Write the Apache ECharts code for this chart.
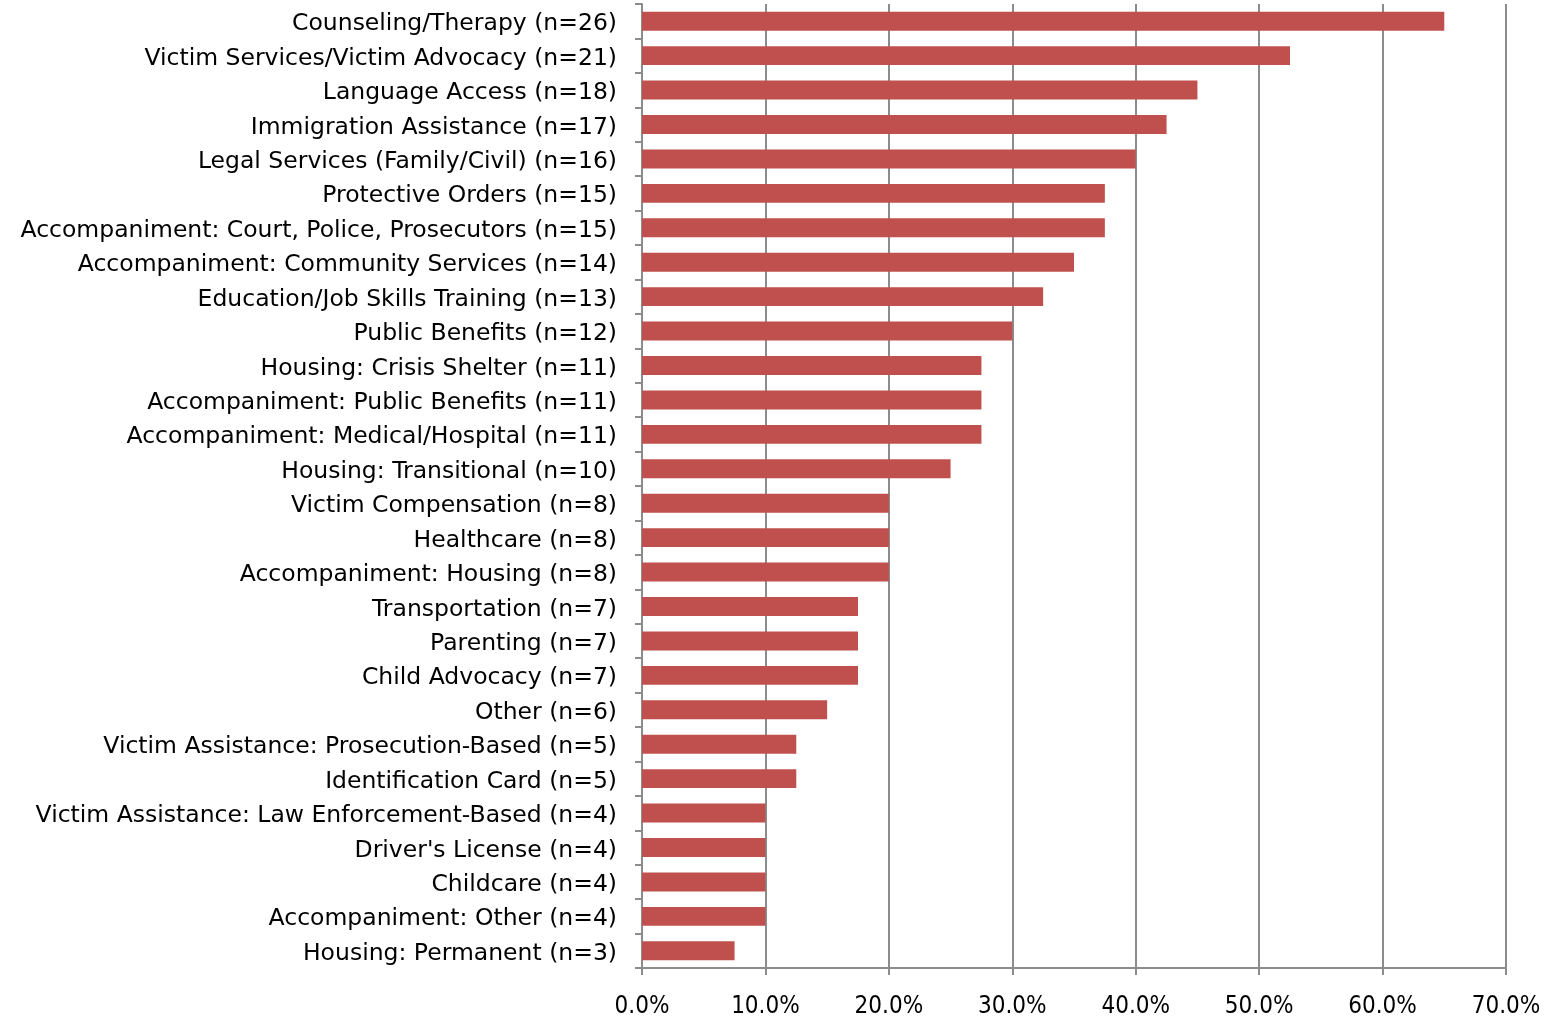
<!DOCTYPE html>
<html>
<head>
<meta charset="utf-8">
<script src="https://cdn.jsdelivr.net/npm/echarts@6/dist/echarts.min.js"></script>
<style>
  html, body { margin: 0; padding: 0; background: #fff; }
  #chart { width: 1550px; height: 1019px; }
</style>
</head>
<body>
<div id="chart"></div>
<script>
// categories listed top to bottom as in the picture
var categories = [
    'Counseling/Therapy (n=26)',
    'Victim Services/Victim Advocacy (n=21)',
    'Language Access (n=18)',
    'Immigration Assistance (n=17)',
    'Legal Services (Family/Civil) (n=16)',
    'Protective Orders (n=15)',
    'Accompaniment: Court, Police, Prosecutors (n=15)',
    'Accompaniment: Community Services (n=14)',
    'Education/Job Skills Training (n=13)',
    'Public Benefits (n=12)',
    'Housing: Crisis Shelter (n=11)',
    'Accompaniment: Public Benefits (n=11)',
    'Accompaniment: Medical/Hospital (n=11)',
    'Housing: Transitional (n=10)',
    'Victim Compensation (n=8)',
    'Healthcare (n=8)',
    'Accompaniment: Housing (n=8)',
    'Transportation (n=7)',
    'Parenting (n=7)',
    'Child Advocacy (n=7)',
    'Other (n=6)',
    'Victim Assistance: Prosecution-Based (n=5)',
    'Identification Card (n=5)',
    'Victim Assistance: Law Enforcement-Based (n=4)',
    "Driver's License (n=4)",
    'Childcare (n=4)',
    'Accompaniment: Other (n=4)',
    'Housing: Permanent (n=3)'
];

// percent of respondents
var percents = [
    65.0, 52.5, 45.0, 42.5, 40.0, 37.5, 37.5, 35.0, 32.5, 30.0,
    27.5, 27.5, 27.5, 25.0, 20.0, 20.0, 20.0, 17.5, 17.5, 17.5,
    15.0, 12.5, 12.5, 10.0, 10.0, 10.0, 10.0, 7.5
];

var xTicks = { min: 0, max: 70, interval: 10 };

var gray = '#8c8c8c';

var myChart = echarts.init(document.getElementById('chart'));
myChart.setOption({
    animation: false,
    grid: { left: 642, right: 44, top: 4, bottom: 49, containLabel: false },
    xAxis: {
        type: 'value',
        min: xTicks.min,
        max: xTicks.max,
        interval: xTicks.interval,
        axisLine: { show: true, lineStyle: { color: gray, width: 2 } },
        axisTick: { show: true, length: 7, lineStyle: { color: gray, width: 2 } },
        splitLine: { show: true, lineStyle: { color: gray, width: 2 } },
        axisLabel: {
            color: '#000',
            fontFamily: '"DejaVu Sans Condensed", "DejaVu Sans", sans-serif',
            fontSize: 24,
            margin: 27,
            formatter: function (v) { return v.toFixed(1) + '%'; }
        }
    },
    yAxis: {
        type: 'category',
        inverse: true,
        data: categories,
        axisLine: { show: true, lineStyle: { color: gray, width: 2 } },
        axisTick: { show: true, length: 7, lineStyle: { color: gray, width: 2 } },
        splitLine: { show: false },
        axisLabel: {
            color: '#000',
            fontFamily: '"DejaVu Sans", sans-serif',
            fontSize: 23.5,
            margin: 25,
            verticalAlign: 'top',
            lineHeight: 6
        }
    },
    series: [{
        type: 'bar',
        data: percents,
        barWidth: '55%',
        itemStyle: { color: '#C0504D' }
    }]
});
</script>
</body>
</html>
